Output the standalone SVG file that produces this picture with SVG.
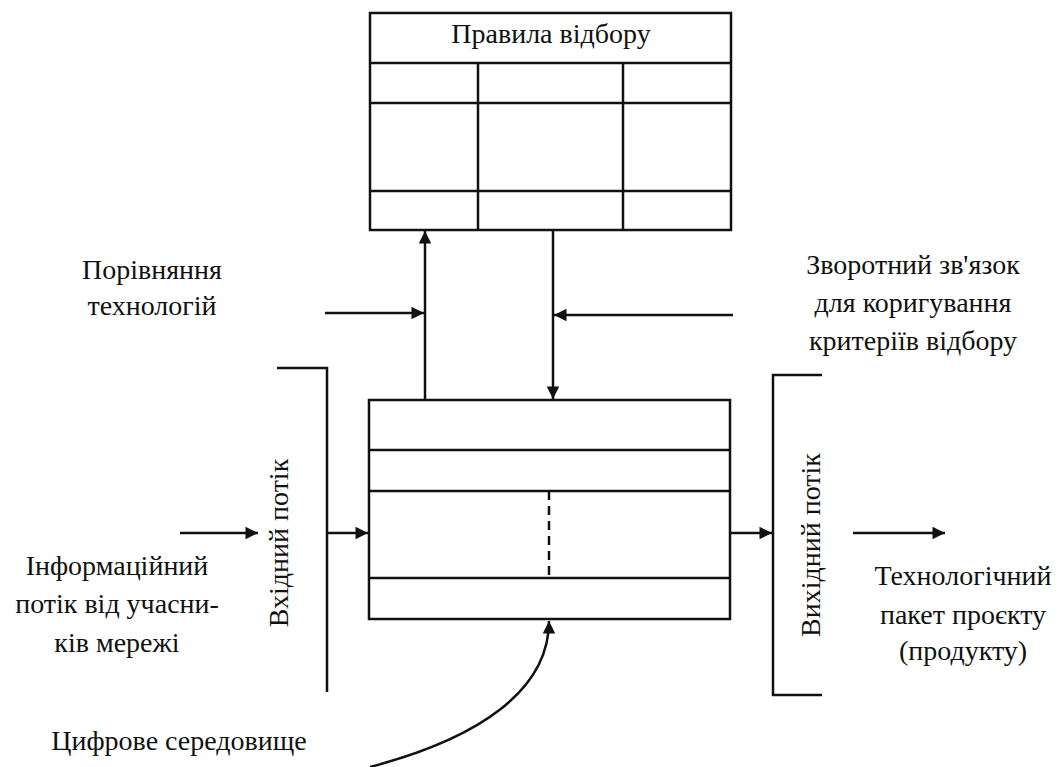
<svg xmlns="http://www.w3.org/2000/svg" width="1058" height="767" viewBox="0 0 1058 767">
<defs>
<marker id="ah" viewBox="0 0 10 10" refX="10" refY="5" markerWidth="5.5" markerHeight="5" markerUnits="strokeWidth" orient="auto">
<path d="M0,0 L10,5 L0,10 z" fill="#111"/>
</marker>
</defs>
<rect width="1058" height="767" fill="#fff"/>
<g stroke="#111" stroke-width="2.5" fill="none">
<g id="rules-table">
<rect x="370" y="13" width="361" height="217"/>
<line x1="370" y1="63" x2="731" y2="63"/>
<line x1="370" y1="103" x2="731" y2="103"/>
<line x1="370" y1="191" x2="731" y2="191"/>
<line x1="478" y1="63" x2="478" y2="230"/>
<line x1="623" y1="63" x2="623" y2="230"/>
</g>
<g id="process-table">
<rect x="369" y="400" width="361" height="219"/>
<line x1="369" y1="450" x2="730" y2="450"/>
<line x1="369" y1="491" x2="730" y2="491"/>
<line x1="369" y1="578" x2="730" y2="578"/>
<line x1="549" y1="491" x2="549" y2="578" stroke-dasharray="9,6"/>
</g>
<g id="input-bracket">
<polyline points="277,368 327,368 327,692"/>
</g>
<g id="output-bracket">
<polyline points="822,375 773,375 773,695 822,695"/>
</g>
<g id="connectors">
<line x1="425" y1="400" x2="425" y2="231" marker-end="url(#ah)"/>
<line x1="553" y1="231" x2="553" y2="399" marker-end="url(#ah)"/>
<line x1="325" y1="313" x2="424" y2="313" marker-end="url(#ah)"/>
<line x1="733" y1="315" x2="554" y2="315" marker-end="url(#ah)"/>
<line x1="180" y1="533" x2="258" y2="533" marker-end="url(#ah)"/>
<line x1="327" y1="533" x2="368" y2="533" marker-end="url(#ah)"/>
<line x1="730" y1="533" x2="772" y2="533" marker-end="url(#ah)"/>
<line x1="853" y1="533" x2="945" y2="533" marker-end="url(#ah)"/>
<path d="M370,767 C480,738 549,690 549,621" marker-end="url(#ah)"/>
</g>
</g>
<g id="labels" text-anchor="middle" fill="#111">
<text x="551" y="43" font-family="Liberation Serif, serif" font-size="28">Правила відбору</text>
<text transform="translate(288,543) rotate(-90)" font-family="Liberation Serif, serif" font-size="28">Вхідний потік</text>
<text transform="translate(820,545) rotate(-90)" font-family="Liberation Serif, serif" font-size="28">Вихідний потік</text>
<text x="152" y="279" font-family="Liberation Serif, serif" font-size="28">Порівняння</text>
<text x="152" y="315" font-family="Liberation Serif, serif" font-size="28">технологій</text>
<text x="913" y="274" font-family="Liberation Serif, serif" font-size="28">Зворотний зв'язок</text>
<text x="913" y="312" font-family="Liberation Serif, serif" font-size="28">для коригування</text>
<text x="913" y="350" font-family="Liberation Serif, serif" font-size="28">критеріїв відбору</text>
<text x="117" y="575" font-family="Liberation Serif, serif" font-size="28">Інформаційний</text>
<text x="117" y="613" font-family="Liberation Serif, serif" font-size="28">потік від учасни-</text>
<text x="117" y="652" font-family="Liberation Serif, serif" font-size="28">ків мережі</text>
<text x="963" y="585" font-family="Liberation Serif, serif" font-size="28">Технологічний</text>
<text x="963" y="624" font-family="Liberation Serif, serif" font-size="28">пакет проєкту</text>
<text x="963" y="660" font-family="Liberation Serif, serif" font-size="28">(продукту)</text>
<text x="179" y="750" font-family="Liberation Serif, serif" font-size="28">Цифрове середовище</text>
</g>
</svg>
